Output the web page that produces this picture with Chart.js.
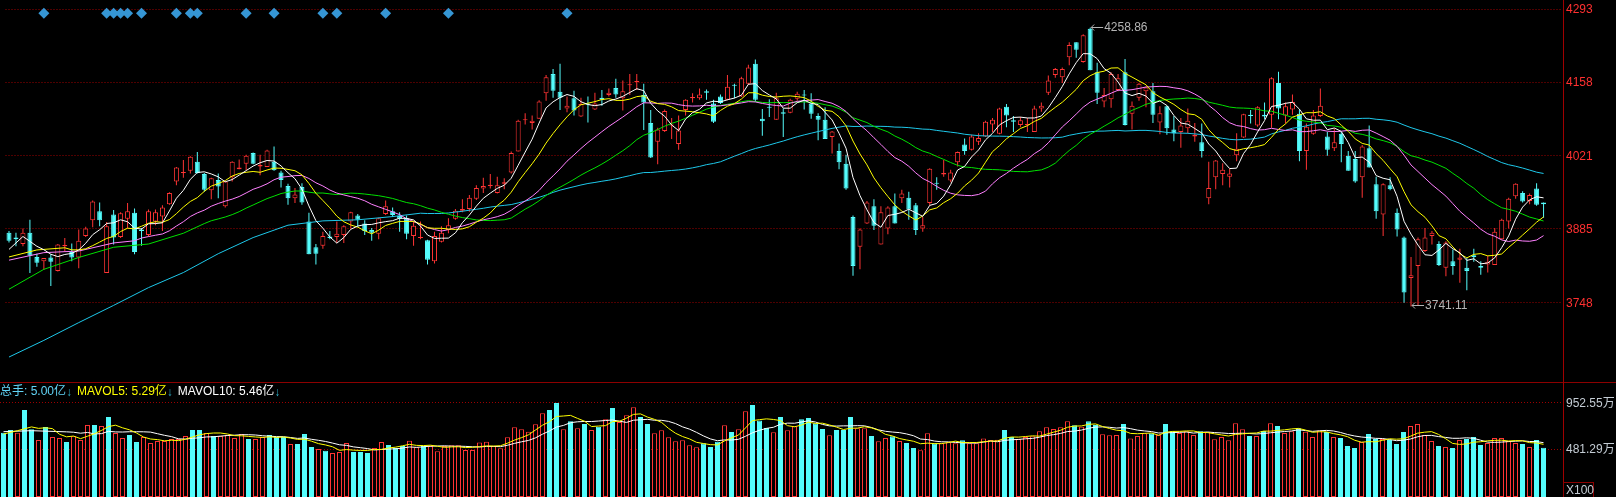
<!DOCTYPE html>
<html>
<head>
<meta charset="utf-8">
<script src="https://cdn.jsdelivr.net/npm/chart.js@4.4.1/dist/chart.umd.min.js"></script>
<style>
    html, body { margin: 0; padding: 0; background: #000; overflow: hidden; }
    #wrap { width: 1616px; height: 497px; }
    canvas { display: block; }
</style>
</head>
<body>
<div id="wrap">
    <canvas id="kline" width="1616" height="382"></canvas>
    <canvas id="volume" width="1616" height="115"></canvas>
</div>
<script>
const opens = [
    3878,3869,3857,3878,3833,3825,3832,3807,3853,3842, 3832,3872,3901,3918,3803,3912,3870,3904,3915,3884,
    3874,3899,3908,3931,3973,3989,3993,4010,3987,3957, 3976,3927,3981,3996,4006,4026,4001,4000,4010,3990,
    3965,3942,3963,3899,3851,3854,3871,3870,3874,3899, 3910,3895,3883,3876,3913,3918,3909,3905,3872,3868,
    3864,3825,3861,3883,3904,3919,3922,3941,3960,3965, 3952,3969,3990,4029,4087,4082,4090,4137,4173,4140,
    4109,4128,4094,4118,4107,4129,4134,4147,4128,4152, 4158,4134,4082,4047,4067,4077,4043,4106,4128,4128,
    4141,4118,4131,4125,4153,4131,4155,4192,4090,4112, 4088,4102,4101,4127,4135,4118,4095,4088,4056,4030,
    4006,3907,3852,3895,3927,3856,3886,3927,3942,3943, 3929,3886,3933,3971,3986,3975,4009,4042,4032,4047,
    4057,4079,4062,4112,4087,4078,4078,4065,4109,4138, 4171,4167,4204,4232,4195,4257,4176,4122,4126,4143,
    4176,4099,4129,4141,4141,4083,4113,4070,4065,4072, 4057,4046,3942,3981,3987,3982,4022,4055,4097,4077,
    4097,4097,4156,4096,4107,4099,4030,4062,4095,4057, 4035,4062,4021,4015,3981,4035,3968,3912,3966,3915,
    3869,3794,3816,3844,3872,3857,3813,3825,3828,3813, 3836,3816,3819,3818,3866,3899,3946,3952,3937,3960,
    3934
];
const highs = [
    3881,3878,3886,3902,3839,3831,3838,3857,3868,3858, 3884,3889,3938,3934,3898,3920,3916,3933,3923,3887,
    3921,3921,3929,3953,4000,4013,4020,4028,3989,3980, 3988,3974,4011,4014,4023,4027,4023,4032,4038,3993,
    3969,3961,3970,3915,3857,3880,3881,3899,3892,3917, 3913,3901,3887,3906,3938,3925,3916,3910,3898,3899,
    3865,3880,3890,3905,3922,3940,3948,3966,3980,3987, 3982,3979,4029,4088,4100,4096,4124,4171,4182,4192,
    4131,4142,4129,4131,4138,4143,4146,4164,4161,4173, 4173,4155,4106,4073,4107,4091,4096,4126,4137,4146,
    4144,4125,4135,4171,4155,4168,4190,4200,4108,4126, 4138,4109,4127,4140,4143,4137,4100,4111,4067,4044,
    4023,3910,3886,3937,3940,3927,3927,3951,3958,3954, 3933,3907,3998,3981,4013,3995,4029,4053,4060,4063,
    4086,4091,4110,4117,4095,4093,4091,4114,4120,4170, 4184,4185,4232,4232,4247,4258.86,4194,4147,4176,4173,
    4201,4122,4156,4150,4156,4113,4114,4095,4091,4109, 4082,4081,4010,4013,4007,3997,4063,4099,4106,4113,
    4120,4167,4177,4120,4135,4107,4081,4106,4146,4065, 4072,4065,4030,4030,4041,4077,3982,3970,3981,3923,
    3871,3833,3869,3887,3881,3862,3862,3847,3848,3832, 3848,3825,3835,3887,3904,3943,3970,3955,3951,3970,
    3934
];
const lows = [
    3860,3853,3853,3803,3815,3809,3779,3806,3844,3825, 3812,3870,3888,3890,3803,3856,3868,3886,3838,3854,
    3871,3892,3881,3930,3966,3980,3988,3988,3954,3940, 3942,3925,3973,3996,3994,4005,3985,4000,3993,3962,
    3930,3933,3930,3838,3819,3848,3866,3859,3859,3886, 3889,3874,3863,3866,3911,3907,3880,3866,3854,3866,
    3819,3821,3860,3877,3902,3916,3917,3939,3952,3960, 3951,3959,3988,4029,4079,4070,4090,4123,4129,4106,
    4102,4096,4093,4083,4106,4114,4131,4129,4105,4134, 4143,4069,4017,4005,4065,4052,4032,4096,4120,4125,
    4125,4082,4117,4124,4128,4130,4153,4121,4058,4093, 4088,4056,4100,4123,4107,4090,4050,4052,4025,3996,
    3958,3798,3810,3894,3883,3856,3875,3895,3933,3902, 3874,3880,3929,3958,3982,3972,4001,4023,4031,4041,
    4056,4065,4061,4074,4065,4074,4065,4065,4103,4134, 4166,4156,4189,4203,4194,4180,4117,4111,4110,4141,
    4077,4070,4123,4111,4082,4061,4060,4048,4036,4063, 4047,4018,3931,3959,3966,3962,4011,4054,4081,4075,
    4089,4073,4089,4081,4097,4011,3995,4060,4093,4021, 4030,4009,3993,3971,3943,3999,3904,3872,3957,3871,
    3748,3741.11,3742,3842,3856,3816,3797,3800,3785,3771, 3824,3800,3804,3818,3865,3886,3941,3934,3931,3928,
    3906
];
const closes = [
    3863,3866,3878,3835,3822,3831,3824,3856,3855,3832, 3863,3886,3936,3901,3890,3869,3914,3918,3842,3881,
    3918,3916,3925,3952,3999,3991,4019,3989,3958,3979, 3964,3973,4010,3999,4021,4006,4004,4031,3994,3976,
    3942,3949,3934,3838,3839,3872,3868,3876,3890,3916, 3902,3881,3878,3905,3927,3911,3904,3876,3891,3870,
    3828,3872,3878,3892,3919,3922,3943,3961,3965,3967, 3966,3972,4026,4086,4089,4086,4122,4167,4142,4129,
    4114,4105,4117,4116,4118,4125,4138,4135,4141,4154, 4160,4120,4018,4070,4104,4079,4068,4125,4130,4135,
    4138,4084,4119,4149,4151,4165,4185,4125,4085,4110, 4128,4099,4125,4136,4133,4099,4088,4052,4066,4009,
    3960,3816,3884,3934,3891,3916,3925,3895,3951,3921, 3883,3892,3997,3969,3989,3990,4028,4030,4057,4054,
    4084,4088,4109,4096,4084,4087,4080,4109,4114,4161, 4182,4182,4227,4218,4245,4180,4138,4134,4173,4165,
    4078,4114,4155,4148,4097,4100,4072,4063,4077,4086, 4060,4030,3961,4012,3995,3988,4034,4098,4095,4111,
    4094,4165,4109,4113,4121,4030,4075,4096,4114,4032, 4046,4043,3993,3973,4038,3999,3918,3968,3959,3884,
    3767,3799,3866,3869,3878,3818,3860,3816,3832,3807, 3833,3813,3824,3880,3902,3941,3969,3936,3948,3930,
    3931
];
// 万 (x100)
const volumes = [
    652,679,652,882,686,578,709,608,598,557, 615,578,730,730,719,811,648,598,628,557,
    608,547,567,567,588,588,618,679,679,648, 618,618,628,598,638,588,588,608,628,608,
    608,537,537,638,507,486,469,446,456,547, 456,456,446,497,557,527,497,517,571,503,
    517,517,463,517,524,524,476,476,551,561, 517,493,605,706,686,662,736,848,882,952,
    686,767,696,740,679,713,787,902,760,828, 909,811,740,645,676,605,564,574,524,503,
    544,507,561,726,659,686,868,932,774,699, 655,811,676,716,787,801,747,689,625,679,
    679,811,696,696,618,564,598,615,567,547, 497,473,645,544,544,554,544,574,544,544,
    594,578,581,679,608,588,608,615,665,706, 689,706,767,726,713,767,730,635,625,628,
    740,594,618,645,645,628,740,665,648,665, 628,665,659,584,608,574,747,686,618,618,
    669,747,720,648,665,696,662,608,675,659, 608,598,517,497,557,638,588,588,578,537,
    659,719,740,628,567,517,507,497,578,588, 608,527,547,598,598,567,547,537,507,578,
    500
];

const ma5Lead = [3847, null, 3871, 3862];
const ma10Lead = [3833, null, null, null, 3846, null, null, null, 3850];
const ma20Lead = [3827, null, null, null, null, 3841, null, null, null, null,
                  3844, null, null, null, null, 3859, null, null, 3863];
const ma30Lead = [3773, null, null, null, null, 3810, null, null, null, null,
                  3832, null, null, null, null, 3851, null, null, null, null,
                  3857, null, null, null, null, 3877, null, null, 3895];
const ma60Lead = [3647, null, null, null, null, 3678, null, null, null, null,
                  3711, null, null, null, null, 3743, null, null, null, null,
                  3776, null, null, null, null, 3804, null, null, null, null,
                  3839, null, null, null, null, 3869, null, null, null, null,
                  3892, null, null, null, null, 3900, null, null, null, null,
                  3902, null, null, null, null, 3908];
const vol5Lead = [638, null, 672];
const vol10Lead = [662, null, null, null, 672];

const signalBars = [5, 14, 15, 16, 17, 19, 24, 26, 27, 34, 38, 45, 47, 54, 63, 80];
const priceTicks = [4293, 4158, 4021, 3885, 3748];
const volTicks = [952.55, 481.29];
const legendNames = ['总手', 'MAVOL5', 'MAVOL10'];
const legendValues = ['5.00亿', '5.29亿', '5.46亿'];

const FONT = '12px "Liberation Sans", Arial, "Noto Sans CJK SC", sans-serif';
const UP = '#ff3434';
const DOWN = '#54fcfc';
const GRID = '#9c0000';
const AXIS = '#a00000';

const upDay = closes.map((c, i) => c >= opens[i]);
const slotLabels = closes.map((_, i) => 'K' + (i + 1)).concat(['', '']);

function movingAvg(src, n, lead) {
    return src.map((v, i) => {
        if (i < n - 1) return lead[i] === undefined ? null : lead[i];
        let s = 0;
        for (let k = i - n + 1; k <= i; k++) s += src[k];
        return s / n;
    });
}

function bodyRange(i) {
    let a = opens[i], b = closes[i];
    if (Math.abs(a - b) < 1.8) {
        const m = (a + b) / 2;
        a = m - 0.9;
        b = m + 0.9;
    }
    return [a, b];
}

function lineSet(label, data, color) {
    return {
        type: 'line', label: label, data: data, borderColor: color, borderWidth: 1,
        pointRadius: 0, spanGaps: true, tension: 0, order: 0
    };
}

function baseOptions(yMin, yMax, ticks) {
    return {
        responsive: false,
        animation: false,
        devicePixelRatio: 1,
        events: [],
        layout: { padding: 0 },
        plugins: { legend: { display: false }, tooltip: { enabled: false } },
        scales: {
            x: { type: 'category', offset: true, display: false, grid: { display: false } },
            y: {
                type: 'linear', position: 'right', min: yMin, max: yMax,
                afterBuildTicks: s => { s.ticks = ticks.map(v => ({ value: v })); },
                afterFit: s => { s.width = 55; },
                ticks: { display: false },
                grid: { color: GRID, lineWidth: 1, drawTicks: false },
                border: { display: false, dash: [1, 2] }
            }
        }
    };
}

function markExtreme(ctx, x, y, text) {
    ctx.strokeStyle = '#b4b4b4';
    ctx.fillStyle = '#b4b4b4';
    ctx.lineWidth = 1;
    const yy = Math.round(y) - 0.5;
    ctx.beginPath();
    ctx.moveTo(x + 1, yy); ctx.lineTo(x + 13, yy);
    ctx.moveTo(x + 1, yy); ctx.lineTo(x + 4, yy - 3);
    ctx.moveTo(x + 1, yy); ctx.lineTo(x + 4, yy + 3);
    ctx.stroke();
    ctx.textAlign = 'left';
    ctx.textBaseline = 'middle';
    ctx.fillText(text, x + 14, yy);
}

const priceDecor = {
    id: 'priceDecor',
    afterDraw(chart) {
        const { ctx, chartArea } = chart;
        const x = chart.scales.x, y = chart.scales.y;
        ctx.save();
        ctx.strokeStyle = AXIS;
        ctx.lineWidth = 1;
        ctx.beginPath();
        ctx.moveTo(chartArea.right + 2.5, 0);
        ctx.lineTo(chartArea.right + 2.5, chart.height);
        ctx.stroke();

        ctx.font = FONT;
        ctx.fillStyle = '#ff3030';
        ctx.textAlign = 'left';
        ctx.textBaseline = 'middle';
        priceTicks.forEach(v => ctx.fillText(String(v), chartArea.right + 5, y.getPixelForValue(v) + 0.5));

        const hi = highs.indexOf(Math.max(...highs));
        const lo = lows.indexOf(Math.min(...lows));
        markExtreme(ctx, x.getPixelForValue(hi), y.getPixelForValue(highs[hi]), highs[hi].toFixed(2));
        markExtreme(ctx, x.getPixelForValue(lo), y.getPixelForValue(lows[lo]), lows[lo].toFixed(2));
        ctx.restore();
    }
};

const volumeDecor = {
    id: 'volumeDecor',
    afterDraw(chart) {
        const { ctx, chartArea } = chart;
        const y = chart.scales.y;
        ctx.save();
        ctx.lineWidth = 1;
        ctx.strokeStyle = '#8c0000';
        ctx.beginPath();
        ctx.moveTo(0, 0.5);
        ctx.lineTo(chart.width, 0.5);
        ctx.stroke();
        ctx.strokeStyle = AXIS;
        ctx.beginPath();
        ctx.moveTo(chartArea.right + 2.5, 0);
        ctx.lineTo(chartArea.right + 2.5, chart.height);
        ctx.stroke();

        ctx.font = FONT;
        ctx.textAlign = 'left';
        ctx.textBaseline = 'middle';
        ctx.fillStyle = '#c4ccd4';
        volTicks.forEach(v => ctx.fillText(v.toFixed(2) + '万', chartArea.right + 5, y.getPixelForValue(v) + 0.5));

        ctx.strokeStyle = '#8c0000';
        ctx.strokeRect(chartArea.right + 2.5, chart.height - 14.5, 30, 15);
        ctx.fillStyle = '#c4ccd4';
        ctx.fillText('X100', chartArea.right + 5, chart.height - 6);

        const colors = ['#62d4f6', '#ffff00', '#ffffff'];
        let px = 0;
        legendNames.forEach((name, k) => {
            const txt = name + ': ' + legendValues[k];
            ctx.fillStyle = colors[k];
            ctx.fillText(txt, px, 10);
            px += ctx.measureText(txt).width;
            ctx.fillStyle = '#2aa8c0';
            ctx.fillText('↓', px, 11);
            px += ctx.measureText('↓').width + 5;
        });
        ctx.restore();
    }
};

function KlineChart(id) {
    const signalData = closes.map((_, i) => signalBars.includes(i) ? 4286 : null);
    const data = {
        labels: slotLabels,
        datasets: [
            lineSet('MA5', movingAvg(closes, 5, ma5Lead), '#ffffff'),
            lineSet('MA10', movingAvg(closes, 10, ma10Lead), '#ffff00'),
            lineSet('MA20', movingAvg(closes, 20, ma20Lead), '#ff80ff'),
            lineSet('MA30', movingAvg(closes, 30, ma30Lead), '#00e000'),
            lineSet('MA60', movingAvg(closes, 60, ma60Lead), '#1ec8ea'),
            {
                type: 'line', label: 'signal', data: signalData, showLine: false,
                pointStyle: 'rectRot', pointRadius: 5.5, pointBorderWidth: 0,
                pointBackgroundColor: '#3596d4', pointBorderColor: '#3596d4', order: 0
            },
            {
                type: 'bar', label: 'body', data: closes.map((_, i) => bodyRange(i)),
                backgroundColor: upDay.map(u => u ? '#000000' : DOWN),
                borderColor: upDay.map(u => u ? UP : DOWN),
                borderWidth: 1, borderSkipped: false, barThickness: 5,
                grouped: false, inflateAmount: 0, order: 1
            },
            {
                type: 'bar', label: 'wick', data: highs.map((h, i) => [lows[i], h]),
                backgroundColor: upDay.map(u => u ? UP : DOWN),
                borderWidth: 0, barThickness: 1, grouped: false, inflateAmount: 0, order: 2
            }
        ]
    };
    const config = {
        type: 'bar',
        data: data,
        options: baseOptions(3610.85, 4300.2, priceTicks),
        plugins: [priceDecor]
    };
    let ctx = document.getElementById(id).getContext('2d')
    new Chart(ctx, config)
}

function VolumeChart(id) {
    const data = {
        labels: slotLabels,
        datasets: [
            lineSet('MAVOL5', movingAvg(volumes, 5, vol5Lead), '#ffff00'),
            lineSet('MAVOL10', movingAvg(volumes, 10, vol10Lead), '#ffffff'),
            {
                type: 'bar', label: 'volume', data: volumes,
                backgroundColor: upDay.map(u => u ? '#000000' : DOWN),
                borderColor: upDay.map(u => u ? UP : DOWN),
                borderWidth: 1, borderSkipped: false, barThickness: 5,
                grouped: false, inflateAmount: 0, order: 1
            }
        ]
    };
    const config = {
        type: 'bar',
        data: data,
        options: baseOptions(0, 1165.3, volTicks),
        plugins: [volumeDecor]
    };
    let ctx = document.getElementById(id).getContext('2d')
    new Chart(ctx, config)
}

KlineChart('kline');
VolumeChart('volume');
</script>
</body>
</html>
